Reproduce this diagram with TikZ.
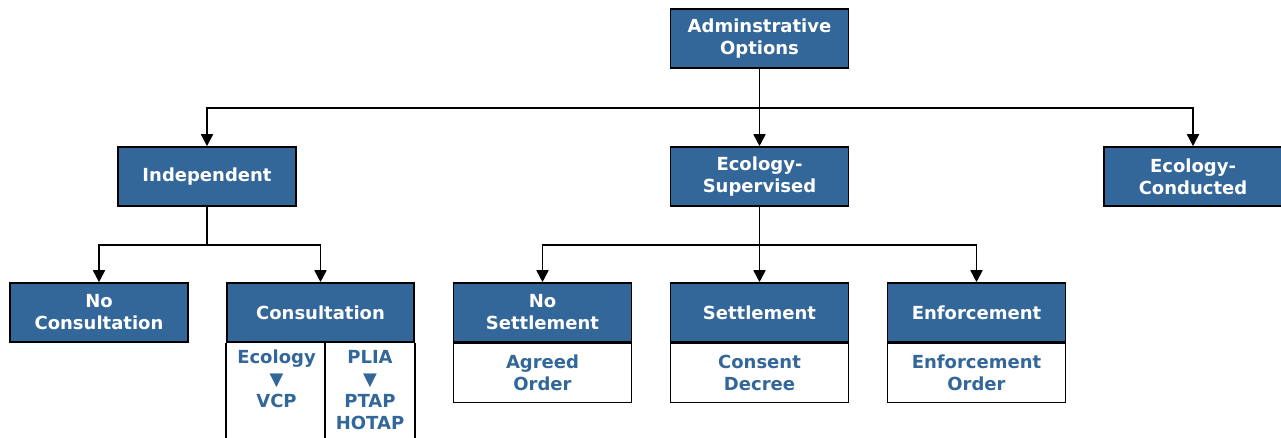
\documentclass[tikz,border=0pt]{standalone}
\usepackage{fontspec}
\setmainfont{DejaVu Sans}
\usetikzlibrary{arrows.meta,positioning}
\definecolor{hdrblue}{HTML}{336699}

\begin{document}
\begin{tikzpicture}[x=0.75pt,y=-0.75pt,
    hdr/.style={draw=black,line width=1.2pt,fill=hdrblue,text=white,
        font=\fontsize{13.5}{16.5}\selectfont\bfseries,align=center,
        minimum width=133.5pt,minimum height=44.25pt,inner sep=0pt},
    sub/.style={hdr,fill=white,text=hdrblue},
    celltext/.style={text=hdrblue,font=\fontsize{13.5}{16.5}\selectfont\bfseries,align=center,inner sep=0pt},
    conn/.style={line width=1.3pt,-{Triangle[length=9pt,width=9pt]}}]
    \useasboundingbox (0,0) rectangle (1281,438);
    % top level
    \node[hdr] (adm) at (759.5,38.5) {Adminstrative\\Options};
    \node[hdr] (indep) at (207,176.5) {Independent};
    \node[hdr] (ecosup) at (759.5,176.5) {Ecology-\\Supervised};
    \node[hdr] (ecocon) at (1193,176.5) {Ecology-\\Conducted};
    % independent branch
    \node[hdr] (nocons) at (99,312.5) {No\\Consultation};
    \node[hdr,minimum width=140.25pt] (cons) at (320.5,312.5) {Consultation};
    \path (cons.south west) ++(99,0) coordinate (split);
    \draw[line width=1.2pt] (cons.south west) -- ++(0,130)
        (split) -- ++(0,130) (cons.south east) -- ++(0,130);
    \node[celltext] (ecovcp) at (276.5,379) {Ecology\\▼\\VCP};
    \node[celltext] (pliaptap) at (370,390) {PLIA\\▼\\PTAP\\HOTAP};
    % supervised branch
    \node[hdr] (nosett) at (542.5,312.5) {No\\Settlement};
    \node[hdr] (sett) at (759.5,312.5) {Settlement};
    \node[hdr] (enf) at (976.5,312.5) {Enforcement};
    \node[sub,anchor=north] (agreed) at (nosett.south) {Agreed\\Order};
    \node[sub,anchor=north] (consent) at (sett.south) {Consent\\Decree};
    \node[sub,anchor=north] (enforder) at (enf.south) {Enforcement\\Order};
    % connectors
    \draw[conn] (adm) -- (ecosup);
    \draw[conn] (adm.south) -- ++(0,39) -| (indep.north);
    \draw[conn] (adm.south) -- ++(0,39) -| (ecocon.north);
    \draw[conn] (indep.south) -- ++(0,38) -| (nocons.north);
    \draw[conn] (indep.south) -- ++(0,38) -| (cons.north);
    \draw[conn] (ecosup) -- (sett);
    \draw[conn] (ecosup.south) -- ++(0,38) -| (nosett.north);
    \draw[conn] (ecosup.south) -- ++(0,38) -| (enf.north);
\end{tikzpicture}
\end{document}
